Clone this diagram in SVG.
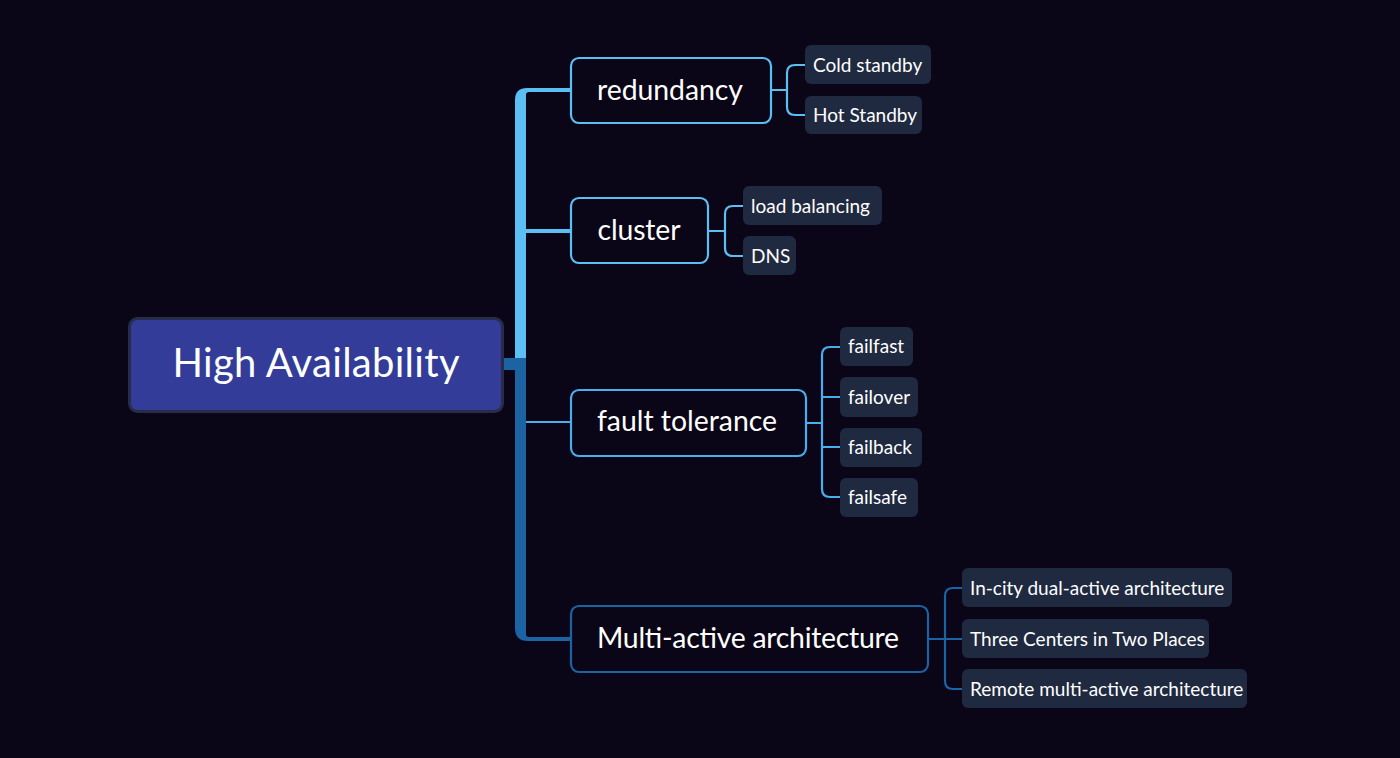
<svg xmlns="http://www.w3.org/2000/svg" width="1400" height="758" viewBox="0 0 1400 758">
<style>
.main{fill:#0a0517;stroke-width:2.2}
.lb{stroke:#5bbff3}
.fb{stroke:#4aaeea}
.db{stroke:#1b63a3}
.leaf rect{fill:#1f2940}
.t{font-family:Lato,"Noto Sans",sans-serif;fill:#ffffff}
.tm{font-size:28.4px;text-anchor:middle}
.tl{font-size:19px}
.c{fill:none;stroke-width:2.2}
</style>
<rect width="1400" height="758" fill="#0a0517"/>
<g id="connectors">
  <path d="M515 358 V100 Q515 88 527 88 H571 V92 H529 Q526 92 526 95 V358 Z" fill="#5bbff3"/>
  <path d="M526 229 H571 V233 H526 Z" fill="#5bbff3"/>
  <path d="M515 358 V628 Q515 641 528 641 H571 V637 H529 Q526 637 526 634 V358 Z" fill="#1b63a3"/>
  <rect x="503" y="358" width="13" height="12" fill="#1b63a3"/>
  <path class="c fb" d="M526 422 H571"/>
  <path class="c lb" d="M772 90 H787 M805 65 H795 Q787 65 787 73 V107 Q787 115 795 115 H805"/>
  <path class="c lb" d="M708 231 H725 M743 206 H733 Q725 206 725 214 V248 Q725 256 733 256 H743"/>
  <path class="c fb" d="M806 423 H822 M840 347 H830 Q822 347 822 355 V489 Q822 497 830 497 H840 M822 397 H840 M822 447 H840"/>
  <path class="c db" d="M928 639 H945 M962 588 H953 Q945 588 945 596 V681 Q945 689 953 689 H962 M945 639 H962"/>
</g>
<g id="root">
  <rect x="129.5" y="318.5" width="373" height="93" rx="8" fill="#333d99" stroke="#262c4a" stroke-width="3"/>
  <text class="t" x="316" y="377" font-size="40" text-anchor="middle" textLength="287" lengthAdjust="spacing">High Availability</text>
</g>
<g id="redundancy">
  <rect class="main lb" x="571" y="58" width="200" height="65" rx="8"/>
  <text class="t tm" x="670" y="100" textLength="146" lengthAdjust="spacing">redundancy</text>
</g>
<g id="cold-standby" class="leaf">
  <rect x="805" y="45" width="126" height="39" rx="6"/>
  <text class="t tl" x="813" y="72">Cold standby</text>
</g>
<g id="hot-standby" class="leaf">
  <rect x="805" y="96" width="117" height="38" rx="6"/>
  <text class="t tl" x="813" y="122">Hot Standby</text>
</g>
<g id="cluster">
  <rect class="main lb" x="571" y="198" width="137" height="65" rx="8"/>
  <text class="t tm" x="639" y="240" textLength="83" lengthAdjust="spacing">cluster</text>
</g>
<g id="load-balancing" class="leaf">
  <rect x="743" y="186" width="139" height="39" rx="6"/>
  <text class="t tl" x="751" y="213">load balancing</text>
</g>
<g id="dns" class="leaf">
  <rect x="743" y="236" width="53" height="39" rx="6"/>
  <text class="t tl" x="751" y="263">DNS</text>
</g>
<g id="fault-tolerance">
  <rect class="main fb" x="571" y="390" width="235" height="66" rx="8"/>
  <text class="t tm" x="687" y="431" textLength="180" lengthAdjust="spacing">fault tolerance</text>
</g>
<g id="failfast" class="leaf">
  <rect x="840" y="327" width="73" height="39" rx="6"/>
  <text class="t tl" x="848" y="353">failfast</text>
</g>
<g id="failover" class="leaf">
  <rect x="840" y="377" width="78" height="40" rx="6"/>
  <text class="t tl" x="848" y="404">failover</text>
</g>
<g id="failback" class="leaf">
  <rect x="840" y="428" width="82" height="39" rx="6"/>
  <text class="t tl" x="848" y="454">failback</text>
</g>
<g id="failsafe" class="leaf">
  <rect x="840" y="478" width="78" height="39" rx="6"/>
  <text class="t tl" x="848" y="504">failsafe</text>
</g>
<g id="multi-active">
  <rect class="main db" x="571" y="606" width="357" height="66" rx="8"/>
  <text class="t tm" x="748" y="648" textLength="302" lengthAdjust="spacing">Multi-active architecture</text>
</g>
<g id="in-city" class="leaf">
  <rect x="962" y="568" width="270" height="39" rx="6"/>
  <text class="t tl" x="970" y="595">In-city dual-active architecture</text>
</g>
<g id="three-centers" class="leaf">
  <rect x="962" y="619" width="247" height="39" rx="6"/>
  <text class="t tl" x="970" y="646">Three Centers in Two Places</text>
</g>
<g id="remote" class="leaf">
  <rect x="962" y="669" width="285" height="39" rx="6"/>
  <text class="t tl" x="970" y="696">Remote multi-active architecture</text>
</g>
</svg>
